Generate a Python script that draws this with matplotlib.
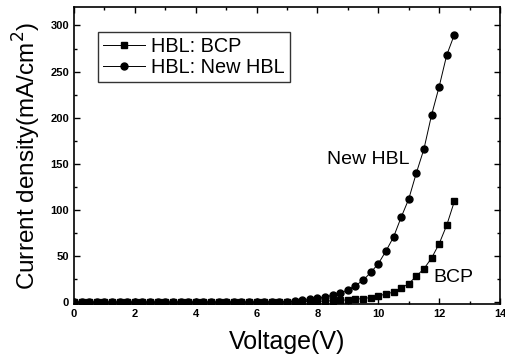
import matplotlib.pyplot as plt
from matplotlib.ticker import MultipleLocator

plt.rcParams['font.family'] = ['Liberation Sans', 'DejaVu Sans']

# voltage (V), 0.25 V steps
voltage = [0.0, 0.25, 0.5, 0.75, 1.0, 1.25, 1.5, 1.75, 2.0, 2.25, 2.5, 2.75,
           3.0, 3.25, 3.5, 3.75, 4.0, 4.25, 4.5, 4.75, 5.0, 5.25, 5.5, 5.75,
           6.0, 6.25, 6.5, 6.75, 7.0, 7.25, 7.5, 7.75, 8.0, 8.25, 8.5, 8.75,
           9.0, 9.25, 9.5, 9.75, 10.0, 10.25, 10.5, 10.75, 11.0, 11.25, 11.5,
           11.75, 12.0, 12.25, 12.5]

# current density (mA/cm^2)
j_bcp = [0.0, 0.0, 0.0, 0.0, 0.0, 0.0, 0.0, 0.0, 0.0, 0.0, 0.0, 0.0,
         0.0, 0.0, 0.0, 0.0, 0.0, 0.0, 0.0, 0.0, 0.0, 0.0, 0.0, 0.0,
         0.0, 0.1, 0.1, 0.2, 0.3, 0.4, 0.5, 0.7, 0.9, 1.2, 1.5, 2.0,
         2.5, 3.2, 3.9, 5.0, 6.5, 9.0, 10.8, 15.2, 20.0, 28.2, 36.2,
         47.7, 63.3, 83.5, 109.2]
j_new = [0.0, 0.0, 0.0, 0.0, 0.0, 0.0, 0.0, 0.0, 0.0, 0.0, 0.0, 0.0,
         0.0, 0.0, 0.0, 0.0, 0.0, 0.0, 0.0, 0.0, 0.0, 0.0, 0.1, 0.1,
         0.1, 0.2, 0.2, 0.3, 0.5, 1.0, 1.8, 2.9, 4.3, 5.4, 7.6, 9.8,
         13.4, 18.0, 23.6, 32.2, 41.6, 55.3, 70.5, 91.9, 111.7, 140.0, 166.0,
         202.8, 233.6, 268.0, 290.0]

fig = plt.figure(figsize=(5.06, 3.58), dpi=100)
ax = fig.add_axes([74/506, 1-304/358, 426/506, 297/358])

ax.plot(voltage, j_bcp, color='black', lw=0.7, marker='s', ms=4.8,
        label='HBL: BCP')
ax.plot(voltage, j_new, color='black', lw=0.7, marker='o', ms=5.0,
        label='HBL: New HBL')

ax.text(8.3, 155, 'New HBL', fontsize=14, va='center', ha='left')
ax.text(11.8, 27, 'BCP', fontsize=14, va='center', ha='left')

ax.set_xlim(0, 14)
ax.set_ylim(-2, 320)
ax.xaxis.set_major_locator(MultipleLocator(2))
ax.xaxis.set_minor_locator(MultipleLocator(1))
ax.yaxis.set_major_locator(MultipleLocator(50))
ax.yaxis.set_minor_locator(MultipleLocator(25))
ax.tick_params(which='both', direction='in', top=True, right=True,
               labelsize=8, width=1)
ax.tick_params(which='major', length=4)
ax.tick_params(which='minor', length=2.5)
for lab in ax.get_xticklabels() + ax.get_yticklabels():
    lab.set_fontweight('bold')
for s in ax.spines.values():
    s.set_linewidth(1.2)

ax.set_xlabel('Voltage(V)', fontsize=18, labelpad=8)
ax.set_ylabel('Current density(mA/cm$^2$)', fontsize=17.5, labelpad=5)

leg = ax.legend(loc='upper left', bbox_to_anchor=(0.056, 0.916), fontsize=14.3,
                frameon=True, fancybox=False, edgecolor='black',
                handlelength=2.1, borderpad=0.25, labelspacing=0.1,
                handletextpad=0.35, borderaxespad=0)
leg.get_frame().set_linewidth(1.0)

fig.savefig('out.png', dpi=100)
